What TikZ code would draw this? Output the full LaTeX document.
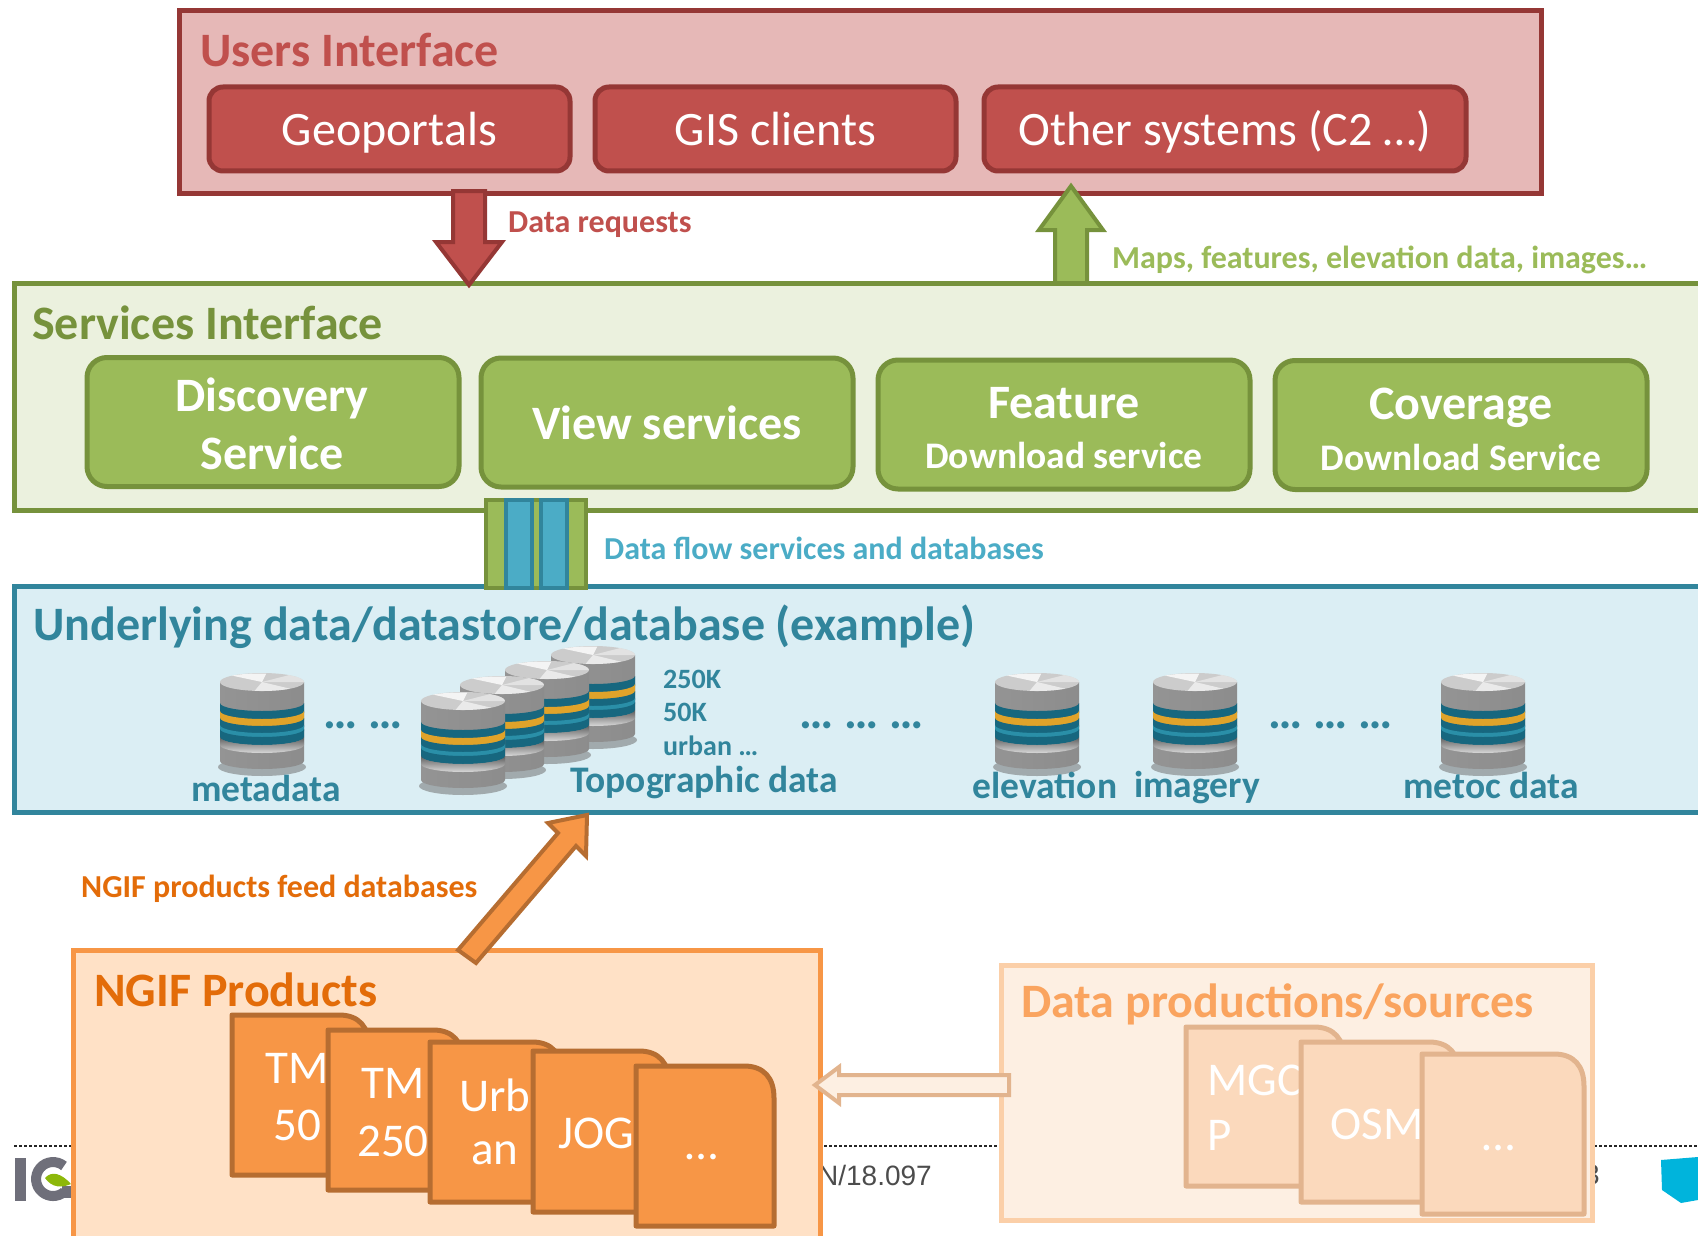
\documentclass[tikz,border=0pt]{standalone}
\usepackage{fontspec}
\setmainfont{Carlito}
\newfontfamily\footfont{Liberation Sans}
\usetikzlibrary{calc}
\definecolor{redfill}{HTML}{C0504D}
\definecolor{reddark}{HTML}{953735}
\definecolor{redbg}{HTML}{E6B8B7}
\definecolor{greenfill}{HTML}{9BBB59}
\definecolor{greendark}{HTML}{76923C}
\definecolor{greenbg}{HTML}{EBF1DE}
\definecolor{bluefill}{HTML}{4BACC6}
\definecolor{bluedark}{HTML}{31859C}
\definecolor{bluebg}{HTML}{DBEEF4}
\definecolor{orangefill}{HTML}{F79646}
\definecolor{orangedark}{HTML}{B66D31}
\definecolor{orangetext}{HTML}{E36C09}
\definecolor{orangebg}{HTML}{FFE1C6}
\definecolor{peachbg}{HTML}{FDEFE2}
\definecolor{peachline}{HTML}{FBCFA8}
\definecolor{peachdoc}{HTML}{FBD9BC}
\definecolor{peachdark}{HTML}{E2B48E}
\definecolor{peachtext}{HTML}{FAA45F}
\definecolor{ringteal}{HTML}{17677F}
\definecolor{ringlight}{HTML}{2A8FA8}
\definecolor{ringgold}{HTML}{E0A32A}
\definecolor{logogrey}{HTML}{6F6F7A}
\definecolor{logoleaf}{HTML}{8DB80A}
\definecolor{logocyan}{HTML}{00B4DC}
\newcommand{\fs}[1]{\fontsize{#1}{#1}\selectfont}
\newcommand{\docshape}[5]{% style, left, top, right, bottom
  \draw[#1] (#2,#5) -- (#2,#3) -- ($(#4,#3)+(-30,0)$) .. controls ($(#4,#3)+(-10,0)$) and ($(#4,#3)+(0,12)$) .. ($(#4,#3)+(0,32)$) -- (#4,#5) -- cycle;}
\newcommand{\ringband}[3]{% y1,y2,colour
  \fill[#3] (0,#1) arc[start angle=180,end angle=0,x radius=42,y radius=8] -- (84,#2) arc[start angle=0,end angle=180,x radius=42,y radius=8] -- cycle;}
\tikzset{
  x=1pt,y=-1pt,
  panel/.style={rectangle,draw,line width=5pt,inner sep=0pt},
  redbtn/.style={rectangle,rounded corners=14pt,draw=reddark,fill=redfill,line width=5pt,inner sep=0pt,text=white,font=\fs{48},text height=38pt,text depth=4pt},
  greenbtn/.style={rectangle,rounded corners=20pt,draw=greendark,fill=greenfill,line width=5pt,inner sep=0pt,text=white,font=\bfseries\fs{48},align=center},
  label/.style={inner sep=0pt,anchor=west},
  centred/.style={inner sep=0pt,anchor=center},
  orangedoc/.style={draw=orangedark,fill=orangefill,line width=5pt,line join=round},
  peachshape/.style={draw=peachdark,fill=peachdoc,line width=5pt,line join=round},
  doctext/.style={inner sep=0pt,text=white,font=\fs{47}},
  blocklabel/.style={inner sep=0pt,text=bluedark,font=\bfseries\fs{37.5}},
  dotlabel/.style={inner sep=0pt,text=bluedark,font=\bfseries\fs{48}},
  smalllabel/.style={inner sep=0pt,anchor=west,text=bluedark,font=\bfseries\fs{28}},
  pics/dbcyl/.style={code={
    \fill[black!55,opacity=.55] (42,94) ellipse [x radius=44,y radius=9];
    \shade[left color=black!42,middle color=black!3,right color=black!45] (0,9) -- (0,88) arc[start angle=180,end angle=0,x radius=42,y radius=8] -- (84,9) -- cycle;
    \ringband{30}{40}{ringteal}
    \ringband{38}{47}{ringgold}
    \ringband{45}{54}{ringteal}
    \ringband{52}{58}{ringlight}
    \ringband{56}{64}{ringteal}
    \shade[top color=black!70,bottom color=black!5,opacity=.75] (0,64) arc[start angle=180,end angle=0,x radius=42,y radius=8] -- (84,72) arc[start angle=0,end angle=180,x radius=42,y radius=8] -- cycle;
    \fill[black!20] (42,9) ellipse [x radius=42,y radius=9];
    \fill[white,opacity=.8] (42,9) -- (12,2.6) arc[start angle=-130,end angle=-80,x radius=42,y radius=9] -- cycle;
    \fill[white,opacity=.6] (42,9) -- (70,15.7) arc[start angle=48,end angle=100,x radius=42,y radius=9] -- cycle;
    \fill[black!5,opacity=.6] (42,9) -- (84,9) arc[start angle=0,end angle=-50,x radius=42,y radius=9] -- cycle;
  }},
}
\begin{document}
\begin{tikzpicture}
\useasboundingbox (0,0) rectangle (1698,1236);
\clip (0,0) rectangle (1698,1236);

% slide footer, behind everything
\coordinate (footl) at (14,1146);
\coordinate (footr) at (1698,1146);
\draw[line width=2.5pt,black!85,dash pattern=on 2.5pt off 2.5pt] (footl) -- (footr);
\fill[logogrey] (15,1158) rectangle (26,1201);
\draw[logogrey,line width=10pt] (64,1166) arc[start angle=-50,end angle=-310,radius=17];
\fill[logogrey] (62,1186) rectangle (72,1198);
\fill[logoleaf] (45,1178) .. controls (52,1170) and (62,1174) .. (71,1184) .. controls (62,1188) and (52,1188) .. cycle;
\node[inner sep=0pt,anchor=east,text=black!70,font=\footfont\fs{28}] (docref) at (932,1175) {SN/18.097};
\node[inner sep=0pt,text=black!70,font=\footfont\fs{28}] (pagenum) at (1592,1175) {3};
\fill[logocyan] (1661,1160) -- (1698,1157) -- (1698,1200) -- (1681,1203) -- (1662,1190) -- cycle;

% users interface
\node[panel,draw=reddark,fill=redbg,minimum width=1362pt,minimum height=182pt] (users) at (860,102) {};
\node[label,text=redfill,font=\bfseries\fs{48}] (userst) at (200,50) {Users Interface};
\node[redbtn,minimum width=361pt,minimum height=84pt] (geo) at (389.5,129) {Geoportals};
\node[redbtn,minimum width=361pt,minimum height=84pt] (gis) at (775.5,129) {GIS clients};
\node[redbtn,minimum width=482pt,minimum height=84pt] (other) at (1225,129) {Other systems (C2 …)};

% services interface
\node[panel,draw=greendark,fill=greenbg,minimum width=1760pt,minimum height=227pt] (services) at (894,396.5) {};
\node[label,text=greendark,font=\bfseries\fs{48}] (servt) at (32,323) {Services Interface};
\node[greenbtn,minimum width=372pt,minimum height=129pt] (disc) at (273,422) {};
\node[centred,text=white,font=\bfseries\fs{48}] (disc1) at (272,398) {Discovery};
\node[centred,text=white,font=\bfseries\fs{48}] (disc2) at (272,453) {Service};
\node[greenbtn,minimum width=372pt,minimum height=129pt] (view) at (667,422.5) {View services};
\node[greenbtn,minimum width=372pt,minimum height=129pt] (feat) at (1064,424.5) {};
\node[centred,text=white,font=\bfseries\fs{48}] (feat1) at (1064,403) {Feature};
\node[centred,text=white,font=\bfseries\fs{37.5}] (feat2) at (1064,455) {Download service};
\node[greenbtn,minimum width=372pt,minimum height=129pt] (cov) at (1461,425) {};
\node[centred,text=white,font=\bfseries\fs{48}] (cov1) at (1461,408) {Coverage};
\node[centred,text=white,font=\bfseries\fs{37.5}] (cov2) at (1461,457) {Download Service};

% underlying data
\node[panel,draw=bluedark,fill=bluebg,minimum width=1760pt,minimum height=226pt] (data) at (894,699) {};
\node[label,text=bluedark,font=\bfseries\fs{48}] (datat) at (33,627) {Underlying data/datastore/database (example)};
\pic at (220,673) {dbcyl};
\pic at (551,646) {dbcyl};
\pic at (505,661) {dbcyl};
\pic at (460,676) {dbcyl};
\pic at (421,692) {dbcyl};
\pic at (995,673) {dbcyl};
\pic at (1153,673) {dbcyl};
\pic at (1441,673) {dbcyl};
\node[smalllabel] (k250) at (663,679) {250K};
\node[smalllabel] (k50) at (663,712) {50K};
\node[smalllabel] (urb) at (663,746) {urban …};
\node[dotlabel] (dots1) at (363,725) {… …};
\node[dotlabel] (dots2) at (862,725) {… … …};
\node[dotlabel] (dots3) at (1331,725) {… … …};
\node[blocklabel] (metaL) at (266,788) {metadata};
\node[blocklabel,anchor=west] (topoL) at (570,783) {Topographic data};
\node[blocklabel] (elevL) at (1045,785) {elevation};
\node[blocklabel] (imgL) at (1197,788) {imagery};
\node[blocklabel] (metocL) at (1491,785) {metoc data};

% data flow stripes
\coordinate (flowc) at (535.5,544);
\draw[greendark,fill=greenfill,line width=4pt] ($(flowc)+(-50,-44)$) rectangle ($(flowc)+(50,44)$);
\draw[bluedark,fill=bluefill,line width=4pt] ($(flowc)+(-30,-44)$) rectangle ($(flowc)+(-4,44)$);
\draw[bluedark,fill=bluefill,line width=4pt] ($(flowc)+(5,-44)$) rectangle ($(flowc)+(31,44)$);
\node[label,text=bluefill,font=\bfseries\fs{32}] (flowL) at (604,548) {Data flow services and databases};

% block arrows between layers
\coordinate (reqtip) at (469,285);
\draw[reddark,fill=redfill,line width=4pt,line join=miter] (reqtip) -- ++(-33,-43) -- ++(17,0) -- ++(0,-51) -- ++(32,0) -- ++(0,51) -- ++(17,0) -- cycle;
\node[label,text=redfill,font=\bfseries\fs{32}] (reqL) at (508,225) {Data requests};
\coordinate (maptip) at (1071,186);
\draw[greendark,fill=greenfill,line width=4pt,line join=miter] (maptip) -- ++(32,44) -- ++(-16,0) -- ++(0,53) -- ++(-32,0) -- ++(0,-53) -- ++(-16,0) -- cycle;
\node[label,text=greenfill,font=\bfseries\fs{32}] (mapL) at (1112,260) {Maps, features, elevation data, images…};

% NGIF products
\node[panel,draw=orangefill,fill=orangebg,minimum width=747pt,minimum height=400pt,anchor=north west] (ngif) at (71,948) {};
\coordinate (feedtip) at (587,815);
\draw[orangedark,fill=orangefill,line width=4pt,line join=miter] (feedtip) -- (586,856) -- (576,846) -- (476,963) -- (458,950) -- (558,833) -- (548,823) -- cycle;
\node[label,text=orangetext,font=\bfseries\fs{32}] (feedL) at (81,889) {NGIF products feed databases};
\node[label,text=orangetext,font=\bfseries\fs{48}] (ngift) at (94,990) {NGIF Products};
\docshape{orangedoc}{232}{1015}{369}{1175}
\node[doctext] (d1a) at (297,1068) {TM};
\node[doctext] (d1b) at (297,1125) {50};
\docshape{orangedoc}{328}{1030}{463}{1190}
\node[doctext] (d2a) at (393,1083) {TM};
\node[doctext] (d2b) at (393,1141) {250};
\docshape{orangedoc}{430}{1042}{562}{1202}
\node[doctext] (d3a) at (495,1095) {Urb};
\node[doctext] (d3b) at (495,1153) {an};
\docshape{orangedoc}{533}{1051}{669}{1212}
\node[doctext] (d4) at (596,1133) {JOG};
\docshape{orangedoc}{636}{1066}{774}{1226}
\node[doctext] (d5) at (702,1157) {…};

% data productions
\node[panel,draw=peachline,fill=peachbg,minimum width=591pt,minimum height=255pt,anchor=north west] (prod) at (999,963) {};
\coordinate (srctip) at (815,1085);
\draw[peachdark,fill=peachbg,line width=4pt,line join=miter] (srctip) -- ++(24,-18) -- ++(0,8) -- ++(170,0) -- ++(0,20) -- ++(-170,0) -- ++(0,8) -- cycle;
\node[label,text=peachtext,font=\bfseries\fs{48}] (prodt) at (1021,1004) {Data productions/sources};
\docshape{peachshape}{1186}{1027}{1344}{1186}
\node[doctext,anchor=west] (m1) at (1207,1080) {MGC};
\node[doctext,anchor=west] (m2) at (1207,1135) {P};
\docshape{peachshape}{1301}{1042}{1459}{1202}
\node[doctext] (m3) at (1377,1124) {OSM};
\docshape{peachshape}{1422}{1054}{1584}{1214}
\node[doctext] (m4) at (1499,1148) {…};
\end{tikzpicture}
\end{document}
